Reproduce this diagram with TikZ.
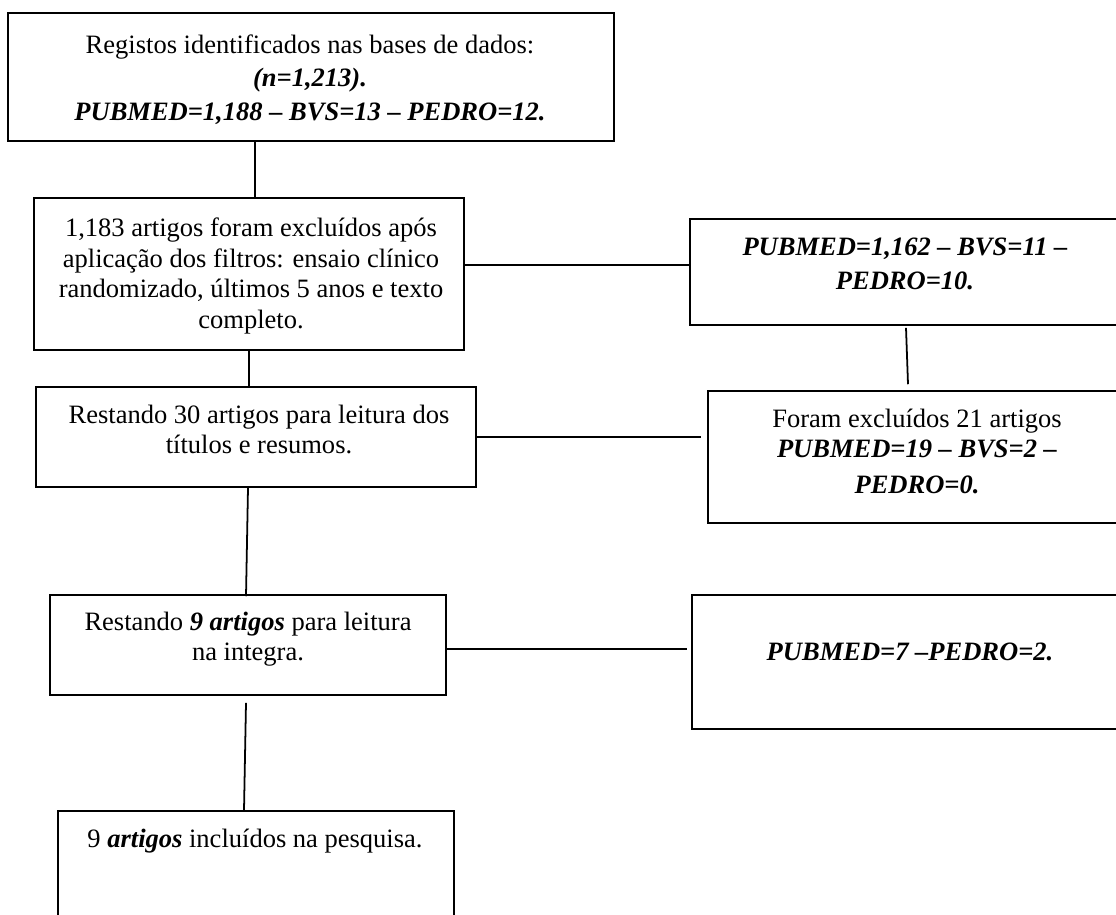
\documentclass[tikz,border=0pt]{standalone}
\usepackage{fontspec}
\setmainfont{Liberation Serif}
\usetikzlibrary{fit}

\tikzset{
    box/.style={draw, line width=.7pt, inner sep=0pt},
    txt/.style={anchor=north, align=center, inner sep=0pt, font=\fontsize{12}{14}\selectfont},
    link/.style={line width=.8pt},
}
\newcommand{\bitext}[1]{\textbf{\textit{#1}}}

\begin{document}
\begin{tikzpicture}[x=.4525pt, y=-.4525pt]
    \useasboundingbox (0,0) rectangle (1116,914);
    \node[box, fit={(8,13) (614,141)}] (reg) {};
    \node[box, fit={(34,198) (464,350)}] (filt) {};
    \node[box, fit={(690,219) (1120,325)}] (pub1) {};
    \node[box, fit={(36,387) (476,487)}] (rest30) {};
    \node[box, fit={(708,391) (1120,523)}] (excl21) {};
    \node[box, fit={(50,595) (446,695)}] (rest9) {};
    \node[box, fit={(692,595) (1120,729)}] (pub2) {};
    \node[box, fit={(58,811) (454,925)}] (incl) {};

    \node[txt, font=\fontsize{12}{15.2}\selectfont] (reg-t) at (310,34) {Registos identificados nas bases de dados:\\ \bitext{(n=1,213).}\\ \bitext{PUBMED=1,188 – BVS=13 – PEDRO=12.}};
    \node[txt] (filt-t) at (251,217) {1,183 artigos foram excluídos após\\ aplicação dos filtros: ensaio clínico\\ randomizado, últimos 5 anos e texto\\ completo.};
    \node[txt, font=\fontsize{12}{15.8}\selectfont] (pub1-t) at (905,237) {\bitext{PUBMED=1,162 – BVS=11 –}\\ \bitext{PEDRO=10.}};
    \node[txt, font=\fontsize{12}{13.6}\selectfont] (rest30-t) at (259,405) {Restando 30 artigos para leitura dos\\ títulos e resumos.};
    \node[txt, font=\fontsize{12}{13.6}\selectfont] (excl21-t) at (917,409) {Foram excluídos 21 artigos\\ \bitext{PUBMED=19 – BVS=2 –}\\[2.7pt] \bitext{PEDRO=0.}};
    \node[txt, font=\fontsize{12}{13.6}\selectfont] (rest9-t) at (248,612) {Restando \bitext{9 artigos} para leitura\\ na integra.};
    \node[txt] (pub2-t) at (910,642) {\bitext{PUBMED=7 –PEDRO=2.}};
    \node[txt] (incl-t) at (255,829) {9 \bitext{artigos} incluídos na pesquisa.};

    \coordinate (c1) at ([shift={(6,0)}]filt.north);
    \draw[link] (c1) -- (c1 |- reg.south);
    \draw[link] (filt.south) -- (filt.south |- rest30.north);
    \coordinate (c2) at ([shift={(0,-9)}]filt.east);
    \draw[link] (c2) -- (c2 -| pub1.west);
    \draw[link] ([shift={(1,2)}]pub1.south) -- ([shift={(-6,-6)}]excl21.north);
    \coordinate (c3) at ([shift={(-6,0)}]excl21.west);
    \draw[link] (rest30.east) -- (rest30.east -| c3);
    \draw[link] (rest30.south -| rest9.north) -- ([shift={(-2,2)}]rest9.north);
    \coordinate (c4) at ([shift={(0,4)}]rest9.east);
    \coordinate (c5) at ([shift={(-4,0)}]pub2.west);
    \draw[link] (c4) -- (c4 -| c5);
    \draw[link] ([shift={(-2,7)}]rest9.south) -- ([shift={(-12,0)}]incl.north);
\end{tikzpicture}
\end{document}
